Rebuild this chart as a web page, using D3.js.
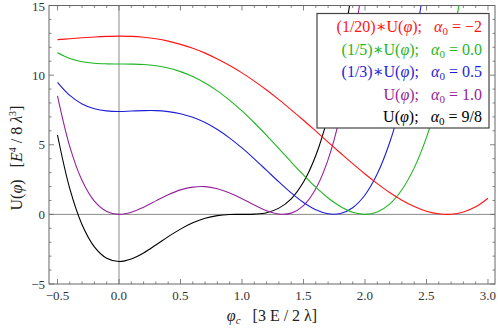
<!DOCTYPE html>
<html>
<head>
<meta charset="utf-8">
<script src="https://cdn.jsdelivr.net/npm/d3@7"></script>
<style>
   body { margin: 0; background: #fff; }
   text { font-family: "Liberation Serif", "DejaVu Serif", serif; }
   .tick-label { font-size: 13px; fill: #333; }
</style>
</head>
<body>
<svg id="chart" width="498" height="329"></svg>
<script>
// phi_c sample points, step 0.1
var phi = [-0.5, -0.4, -0.3, -0.2, -0.1, 0.0, 0.1, 0.2, 0.3, 0.4, 0.5, 0.6, 0.7, 0.8, 0.9,
   1.0, 1.1, 1.2, 1.3, 1.4, 1.5, 1.6, 1.7, 1.8, 1.9, 2.0, 2.1, 2.2, 2.3, 2.4, 2.5,
   2.6, 2.7, 2.8, 2.9, 3.0];

// (1/20)*U, alpha0 = -2
var uRed = [12.55, 12.61, 12.68, 12.74, 12.78, 12.80, 12.78, 12.72, 12.61, 12.44, 12.21,
   11.93, 11.58, 11.16, 10.69, 10.16, 9.57, 8.93, 8.24, 7.51, 6.76, 5.98, 5.19, 4.41,
   3.64, 2.90, 2.21, 1.57, 1.02, 0.57, 0.23, 0.04, 0.01, 0.17, 0.54, 1.16];
// (1/5)*U, alpha0 = 0.0
var uGreen = [11.60, 11.20, 10.96, 10.85, 10.81, 10.80, 10.79, 10.76, 10.67, 10.51, 10.25,
   9.90, 9.43, 8.87, 8.19, 7.43, 6.58, 5.67, 4.72, 3.76, 2.83, 1.95, 1.18, 0.57,
   0.15, 0.00, 0.17, 0.74, 1.77, 3.34, 5.53, 8.43, 12.13, 16.73];
// (1/3)*U, alpha0 = 0.5
var uBlue = [9.48, 8.54, 7.93, 7.59, 7.43, 7.39, 7.42, 7.45, 7.45, 7.38, 7.23,
   6.97, 6.59, 6.09, 5.48, 4.77, 3.99, 3.16, 2.33, 1.54, 0.85, 0.33, 0.04, 0.06,
   0.48, 1.39, 2.91, 5.14, 8.21, 12.23, 17.35];
// U, alpha0 = 1.0
var uPurple = [8.51, 4.87, 2.43, 0.95, 0.21, 0.00, 0.15, 0.52, 0.97, 1.41, 1.76,
   1.96, 1.99, 1.84, 1.54, 1.13, 0.67, 0.26, 0.02, 0.09, 0.63, 1.84, 3.93, 7.14,
   11.74, 18.00];
// U, alpha0 = 9/8
var uBlack = [5.70, 1.85, -0.74, -2.33, -3.15, -3.38, -3.20, -2.77, -2.20, -1.60, -1.06,
   -0.61, -0.28, -0.09, -0.01, 0.00, 0.02, 0.12, 0.45, 1.12, 2.32, 4.23, 7.06, 11.06,
   16.49];

var series = [
   {values: uBlack, color: "#000000", pre: "", alpha: "9/8"},
   {values: uPurple, color: "#93259a", pre: "", alpha: "1.0"},
   {values: uBlue, color: "#1f1fd6", pre: "(1/3)\u2217", alpha: "0.5"},
   {values: uGreen, color: "#1fb51f", pre: "(1/5)\u2217", alpha: "0.0"},
   {values: uRed, color: "#ff1414", pre: "(1/20)\u2217", alpha: "\u22122"}
];
var legendOrder = [4, 3, 2, 1, 0];

var xTicks = [-0.5, 0.0, 0.5, 1.0, 1.5, 2.0, 2.5, 3.0];
var yTicks = [-5, 0, 5, 10, 15];

var svg = d3.select("#chart"),
   pL = 49, pR = 495, pT = 5.5, pB = 284;

var x = d3.scaleLinear().domain([-0.569, 3.057]).range([pL, pR]);
var y = d3.scaleLinear().domain([-5, 15]).range([pB, pT]);

svg.append("defs").append("clipPath")
   .attr("id", "clip")
   .append("rect")
   .attr("x", pL).attr("y", pT)
   .attr("width", pR - pL).attr("height", pB - pT);

// axes through origin
svg.append("line")
   .attr("x1", pL).attr("x2", pR)
   .attr("y1", y(0)).attr("y2", y(0))
   .attr("stroke", "#8a8a8a").attr("stroke-width", 1);
svg.append("line")
   .attr("x1", x(0)).attr("x2", x(0))
   .attr("y1", pT).attr("y2", pB)
   .attr("stroke", "#8a8a8a").attr("stroke-width", 1);

// curves
var line = d3.line()
   .x(function (d, i) { return x(phi[i]); })
   .y(function (d) { return y(d); })
   .curve(d3.curveCatmullRom.alpha(0.5));

svg.append("g")
   .attr("clip-path", "url(#clip)")
   .selectAll("path")
   .data(series)
   .enter().append("path")
   .attr("d", function (d) { return line(d.values); })
   .attr("fill", "none")
   .attr("stroke", function (d) { return d.color; })
   .attr("stroke-width", 1.1);

// frame ticks (inside, on all four sides)
var minorX = d3.range(-5, 31).map(function (v) { return v / 10; });
var minorY = d3.range(-5, 16);
var tickG = svg.append("g").attr("stroke", "#666").attr("stroke-width", 0.8);

minorX.forEach(function (v) {
   var major = Math.abs(v * 2 - Math.round(v * 2)) < 1e-6;
   var len = major ? 5 : 2.5;
   tickG.append("line").attr("x1", x(v)).attr("x2", x(v)).attr("y1", pB).attr("y2", pB - len);
   tickG.append("line").attr("x1", x(v)).attr("x2", x(v)).attr("y1", pT).attr("y2", pT + len);
});
minorY.forEach(function (v) {
   var len = (v % 5 === 0) ? 5 : 2.5;
   tickG.append("line").attr("x1", pL).attr("x2", pL + len).attr("y1", y(v)).attr("y2", y(v));
   tickG.append("line").attr("x1", pR).attr("x2", pR - len).attr("y1", y(v)).attr("y2", y(v));
});

svg.append("rect")
   .attr("x", pL).attr("y", pT)
   .attr("width", pR - pL).attr("height", pB - pT)
   .attr("fill", "none").attr("stroke", "#666").attr("stroke-width", 1);

// tick labels
svg.append("g").selectAll("text")
   .data(xTicks)
   .enter().append("text")
   .attr("class", "tick-label")
   .attr("x", function (d) { return x(d); })
   .attr("y", pB + 16)
   .attr("text-anchor", "middle")
   .text(function (d) { return d3.format(".1f")(d).replace("-", "\u2212"); });

svg.append("g").selectAll("text")
   .data(yTicks)
   .enter().append("text")
   .attr("class", "tick-label")
   .attr("x", pL - 4)
   .attr("y", function (d) { return Math.max(y(d) + 4.5, 11); })
   .attr("text-anchor", "end")
   .text(function (d) { return String(d).replace("-", "\u2212"); });

// axis labels
var xl = svg.append("text")
   .attr("x", 272).attr("y", 321)
   .attr("text-anchor", "middle")
   .attr("font-size", 16).attr("fill", "#222");
xl.append("tspan").attr("font-style", "italic").text("\u03c6");
xl.append("tspan").attr("font-style", "italic").attr("font-size", 11).attr("dy", 3).text("c");
xl.append("tspan").attr("dy", -3).text("\u2002 [3 E / 2 \u03bb]");

var yl = svg.append("text")
   .attr("transform", "translate(22,158) rotate(-90)")
   .attr("text-anchor", "middle")
   .attr("font-size", 16).attr("fill", "#222");
yl.append("tspan").text("U(");
yl.append("tspan").attr("font-style", "italic").text("\u03c6");
yl.append("tspan").text(")\u2002 [");
yl.append("tspan").attr("font-style", "italic").text("E");
yl.append("tspan").attr("font-size", 10).attr("dy", -6).text("4");
yl.append("tspan").attr("dy", 6).text(" / 8 ");
yl.append("tspan").attr("font-style", "italic").text("\u03bb");
yl.append("tspan").attr("font-size", 10).attr("dy", -6).text("3");
yl.append("tspan").attr("dy", 6).text("]");

// legend
var lg = svg.append("g");
lg.append("rect")
   .attr("x", 317).attr("y", 13.5)
   .attr("width", 172).attr("height", 114.5)
   .attr("fill", "#fff").attr("stroke", "#444").attr("stroke-width", 1.2);

legendOrder.forEach(function (k, i) {
   var s = series[k];
   var t = lg.append("text")
      .attr("x", 482).attr("y", 32 + i * 22.6)
      .attr("text-anchor", "end")
      .attr("font-size", 16)
      .attr("fill", s.color);
   t.append("tspan").text(s.pre + "U(");
   t.append("tspan").attr("font-style", "italic").text("\u03c6");
   t.append("tspan").text(");\u2002 ");
   t.append("tspan").attr("font-style", "italic").text("\u03b1");
   t.append("tspan").attr("font-size", 11).attr("dy", 3).text("0");
   t.append("tspan").attr("dy", -3).text(" = " + s.alpha);
});
</script>
</body>
</html>
